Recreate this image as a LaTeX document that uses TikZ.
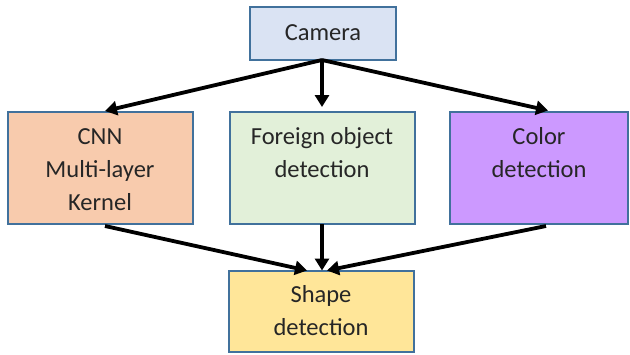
\documentclass[tikz,border=0pt]{standalone}
\usepackage{fontspec}
\setmainfont{Carlito}
\usetikzlibrary{arrows.meta}
\definecolor{bordc}{HTML}{41719C}
\definecolor{camc}{HTML}{DAE3F3}
\definecolor{cnnc}{HTML}{F8CBAD}
\definecolor{forc}{HTML}{E2F0D9}
\definecolor{colc}{HTML}{CC99FF}
\definecolor{shpc}{HTML}{FFE699}
\tikzset{
  boxr/.style={draw=bordc, line width=1.3pt},
  txt/.style={font=\fontsize{24.5}{33}\selectfont, align=center, inner sep=0pt, text=black!85},
  arr/.style={line width=3.8pt, -{Triangle[length=12pt,width=14pt]}},
}
\begin{document}
\begin{tikzpicture}[x=1pt,y=-1pt]
\useasboundingbox (0,0) rectangle (630,354);
% boxes
\draw[boxr, fill=camc] (250,7) rectangle (396,60);
\draw[boxr, fill=cnnc] (8,112) rectangle (193,224);
\draw[boxr, fill=forc] (230,112) rectangle (415,224);
\draw[boxr, fill=colc] (450,112) rectangle (628,224);
\draw[boxr, fill=shpc] (229,271) rectangle (414,352);
% texts
\node[txt] (cam) at (323,33) {Camera};
\node[txt] (cnn) at (100,169.5) {CNN\\Multi-layer\\Kernel};
\node[txt] (for) at (322,153) {Foreign object\\detection};
\node[txt] (col) at (539,153) {Color\\detection};
\node[txt] (shp) at (321,310.5) {Shape\\detection};
% anchor coordinates
\coordinate (camB) at (322,60);
\coordinate (cnnT) at (105,111);
\coordinate (forT) at (322,107);
\coordinate (colT) at (548,110.5);
\coordinate (cnnB) at (105,226);
\coordinate (forB) at (322,224);
\coordinate (colB) at (546,226);
\coordinate (shpL) at (307,270.5);
\coordinate (shpM) at (322,270.5);
\coordinate (shpR) at (327,270.5);
% arrows
\draw[arr] (camB) -- (cnnT);
\draw[arr] (camB) -- (forT);
\draw[arr] (camB) -- (colT);
\draw[arr] (cnnB) -- (shpL);
\draw[arr] (forB) -- (shpM);
\draw[arr] (colB) -- (shpR);
\end{tikzpicture}
\end{document}
